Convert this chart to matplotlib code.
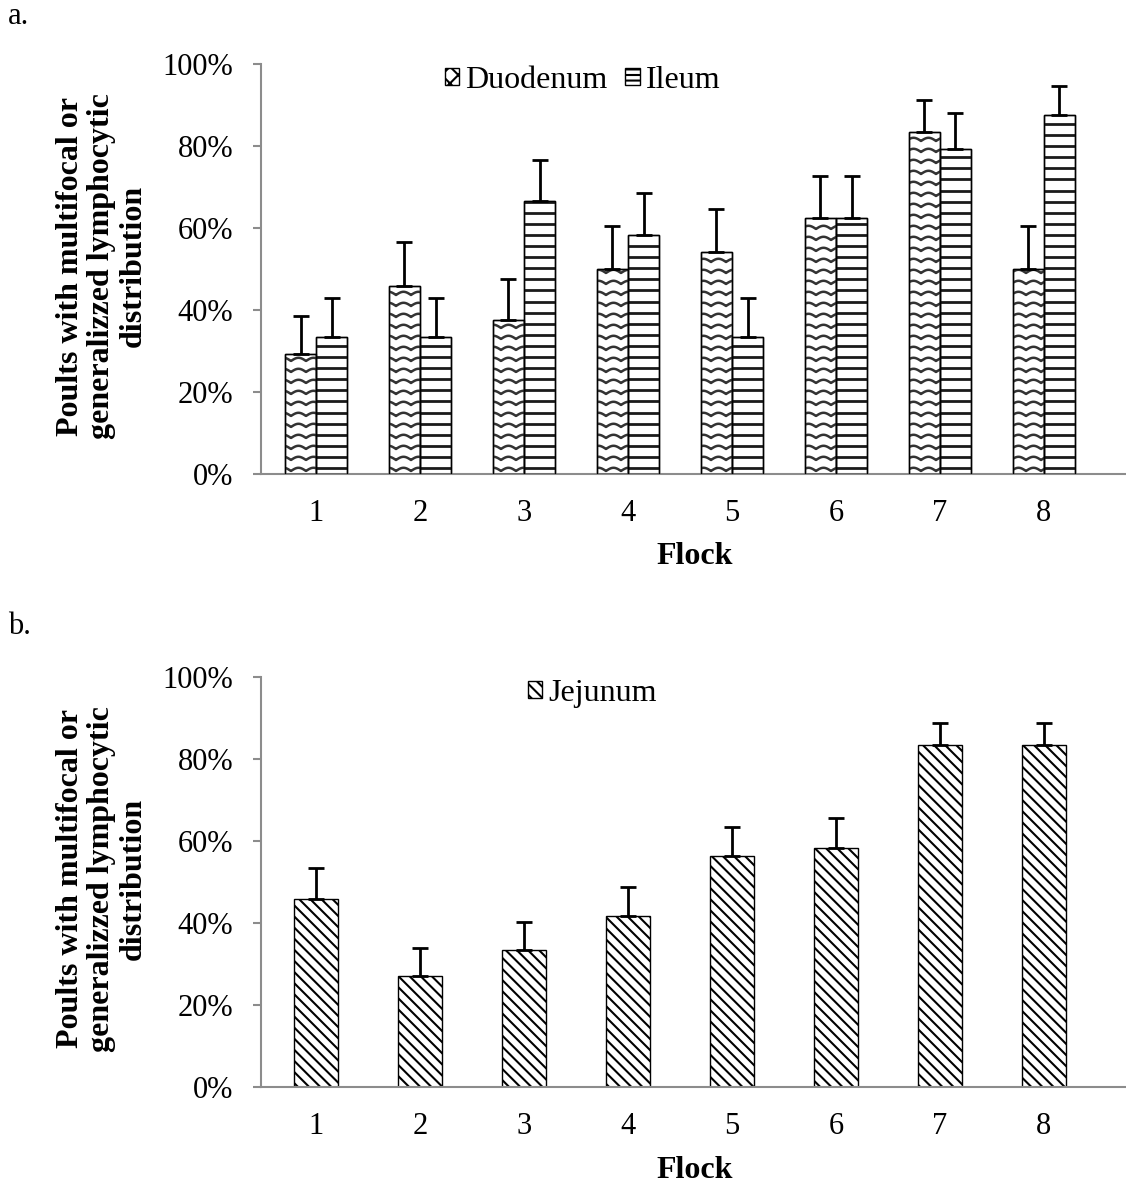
import numpy as np
import matplotlib.pyplot as plt
from matplotlib.patches import Patch
from matplotlib.ticker import PercentFormatter

flocks = [1, 2, 3, 4, 5, 6, 7, 8]

duodenum = [0.292, 0.458, 0.375, 0.500, 0.542, 0.625, 0.833, 0.500]
duodenum_err = [0.093, 0.108, 0.100, 0.104, 0.104, 0.101, 0.079, 0.106]
ileum = [0.333, 0.333, 0.667, 0.583, 0.333, 0.625, 0.792, 0.875]
ileum_err = [0.097, 0.097, 0.098, 0.102, 0.097, 0.101, 0.088, 0.071]

jejunum = [0.458, 0.271, 0.333, 0.417, 0.563, 0.583, 0.833, 0.833]
jejunum_err = [0.076, 0.068, 0.069, 0.071, 0.072, 0.072, 0.054, 0.054]

ylabel_text = 'Poults with multifocal or\ngeneralizzed lymphocytic\ndistribution'

plt.rcParams['font.family'] = 'Liberation Serif'
plt.rcParams['hatch.linewidth'] = 1.5
plt.rcParams['hatch.color'] = '#222222'

W, H = 1126, 1186
fig = plt.figure(figsize=(W / 100, H / 100), dpi=100)


def make_axes(bottom_px):
    # axes box given in pixels: left 261, right edge of figure, 410 px tall
    ax = fig.add_axes([261 / W, 1 - bottom_px / H, 865 / W, 410 / H])
    ax.set_xlim(0.47, 8.79)
    ax.set_ylim(0, 1)
    for s in ['top', 'right']:
        ax.spines[s].set_visible(False)
    for s in ['left', 'bottom']:
        ax.spines[s].set_color('#8c8c8c')
        ax.spines[s].set_linewidth(1.5)
    ax.set_yticks(np.arange(0, 1.01, 0.2))
    ax.yaxis.set_major_formatter(PercentFormatter(1.0, decimals=0))
    ax.set_xticks(flocks)
    ax.tick_params(axis='y', length=6, width=1.5, color='#8c8c8c', pad=14, labelsize=22)
    ax.tick_params(axis='x', length=0, pad=18, labelsize=22)
    return ax


def px_scale(ax):
    bb = ax.get_window_extent()
    x0, x1 = ax.get_xlim()
    y0, y1 = ax.get_ylim()
    return (x1 - x0) / bb.width, (y1 - y0) / bb.height


def wave_fill(ax, bars, spacing=11, period=15, amp=3.2):
    sx, sy = px_scale(ax)
    for bar in bars:
        x0, w, h = bar.get_x(), bar.get_width(), bar.get_height()
        xs = np.linspace(x0, x0 + w, 80)
        xp = (xs - ax.get_xlim()[0]) / sx
        for yb in np.arange(3 * sy, h + spacing * sy, spacing * sy):
            ys = yb + amp * sy * np.abs(np.sin(np.pi * xp / period))
            ln, = ax.plot(xs, ys, color='#333333', lw=1.8, zorder=2.5)
            ln.set_clip_path(bar)


def stripe_fill(ax, bars, spacing=11.1):
    sx, sy = px_scale(ax)
    for bar in bars:
        x0, w, h = bar.get_x(), bar.get_width(), bar.get_height()
        ys = np.arange(6 * sy, h, spacing * sy)
        ax.hlines(ys, x0, x0 + w, color='#1a1a1a', lw=2.0, zorder=2.5)


def panel_text(ax, bottom_px):
    fig.text(102 / W, 1 - (bottom_px - 208) / H, ylabel_text, rotation=90,
             ha='center', va='center', multialignment='center',
             fontsize=23, fontweight='bold', linespacing=1.12)
    fig.text(695 / W, 1 - (bottom_px + 83) / H, 'Flock', ha='center', va='center',
             fontsize=23, fontweight='bold')


x = np.array(flocks, dtype=float)
bw = 0.3

# a. duodenum and ileum
ax1 = make_axes(474)
b_duo = ax1.bar(x - bw / 2, duodenum, bw, color='white', edgecolor='black', lw=1, zorder=2)
b_ile = ax1.bar(x + bw / 2, ileum, bw, color='white', edgecolor='black', lw=1, zorder=2)
wave_fill(ax1, b_duo)
stripe_fill(ax1, b_ile)
for b in list(b_duo) + list(b_ile):
    ax1.add_patch(plt.Rectangle((b.get_x(), 0), b.get_width(), b.get_height(),
                                fill=False, edgecolor='black', lw=1, zorder=3))
ax1.errorbar(x - bw / 2, duodenum, yerr=[np.zeros(8), duodenum_err], fmt='none',
             ecolor='black', elinewidth=2, capsize=6, capthick=2, zorder=4)
ax1.errorbar(x + bw / 2, ileum, yerr=[np.zeros(8), ileum_err], fmt='none',
             ecolor='black', elinewidth=2, capsize=6, capthick=2, zorder=4)
handles = [Patch(facecolor='white', edgecolor='black', hatch='xx', label='Duodenum'),
           Patch(facecolor='white', edgecolor='black', hatch='---', label='Ileum')]
ax1.legend(handles=handles, loc='upper center', bbox_to_anchor=(0.372, 1.065), ncol=2,
           frameon=False, fontsize=23, handlelength=0.45, handleheight=0.45,
           handletextpad=0.2, columnspacing=0.55)
panel_text(ax1, 474)
fig.text(8 / W, 1 - 17 / H, 'a.', fontsize=22, ha='left', va='center')

# b. jejunum
ax2 = make_axes(1087)
b_jej = ax2.bar(x, jejunum, 0.42, color='white', edgecolor='black', lw=1,
                hatch='\\\\\\', zorder=2)
ax2.errorbar(x, jejunum, yerr=[np.zeros(8), jejunum_err], fmt='none',
             ecolor='black', elinewidth=2, capsize=6, capthick=2, zorder=4)
ax2.legend(handles=[Patch(facecolor='white', edgecolor='black', hatch='\\\\\\',
                          label='Jejunum')],
           loc='upper center', bbox_to_anchor=(0.383, 1.065), frameon=False,
           fontsize=23, handlelength=0.45, handleheight=0.45, handletextpad=0.2)
panel_text(ax2, 1087)
fig.text(8 / W, 1 - 626 / H, 'b.', fontsize=22, ha='left', va='center')

fig.savefig('out.png', dpi=100)
